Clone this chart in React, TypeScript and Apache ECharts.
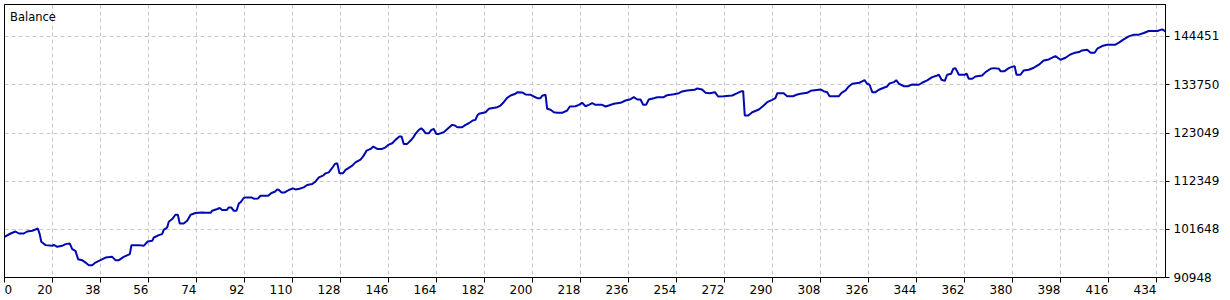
import React, { useEffect, useRef } from "react";
import * as echarts from "echarts";

// Deal number (x) and account balance (y)
const deals = [
  2, 4.3, 6.1, 7.4, 9.2, 10.5, 12.4, 13.6, 14.5, 15.2, 15.8, 17.4, 19.9, 20.5, 21.8, 23.6, 24.9, 26.5, 27.4, 28.6,
  29.6, 31.1, 32.4, 33.6, 34.9, 36.1, 38, 39.9, 42.4, 43.6, 44.9, 46.7, 49, 49.6, 52.4, 54.2, 55.7, 57.4, 58, 59.9,
  61.1, 61.7, 63, 63.6, 64.9, 66.1, 67, 67.7, 69.2, 70.5, 71.8, 73.6, 76.1, 77.4, 79.3, 79.9, 81.8, 82.7, 83.6, 85.3,
  86.1, 87, 88, 89, 89.9, 90.5, 91.7, 92.4, 94.6, 95.5, 97.1, 98, 100.9, 102.1, 103.4, 104.3, 104.9, 105.9, 107.1, 108.6,
  110.1, 111.1, 112.6, 114.2, 115.5, 117.4, 118.6, 119.9, 121.4, 122.4, 123.6, 124.9, 125.9, 126.8, 127.6, 128.9, 129.9, 131.1, 132.4, 133.6,
  135.5, 136.7, 137.8, 139.3, 140.3, 141.8, 143.6, 144.9, 146.1, 147.4, 148.6, 150.1, 150.9, 151.7, 153, 154.3, 155.5, 156.1, 157.4, 158.3,
  159.2, 159.9, 161.1, 162.1, 163, 163.9, 164.9, 166.7, 168.6, 169.9, 170.9, 171.8, 173.6, 174.9, 176.1, 177.6, 178.6, 179.3, 179.9, 182.4,
  183.6, 186.8, 188, 189.2, 190.5, 191.8, 193.6, 194.3, 196.1, 197.4, 199.3, 200.5, 201.8, 203, 203.6, 204.9, 205.5, 206.8, 208, 209.3,
  211.1, 213, 214, 216.1, 217.4, 218.6, 219.9, 221.1, 222.4, 223.6, 226.1, 227.4, 228.6, 230.5, 233, 234.9, 236.8, 238, 239.3, 240.5,
  241.5, 242.6, 243.6, 245.5, 246.8, 249.2, 250.5, 253, 254.9, 256.1, 258, 260.8, 261.8, 263.6, 264.9, 266.5, 268.4, 269.6, 271.7, 274.9,
  276.8, 278.4, 279, 279.6, 280.9, 282.4, 284.9, 286.7, 288, 289.9, 291.1, 291.8, 294.2, 295.5, 297.6, 299.3, 300.5, 303, 304.3, 308,
  309.2, 310.5, 311.4, 314.9, 315.9, 317.4, 318.6, 319.9, 322.6, 323.6, 324.5, 325.5, 326.4, 327.4, 328.6, 329.9, 331.7, 333, 333.9, 335.5,
  336.4, 337.4, 339.2, 340.9, 342.4, 344.9, 346.1, 348, 349.9, 351.8, 352.4, 353.4, 354.6, 355.5, 357, 357.8, 358.6, 359.9, 362, 362.8,
  363.6, 364.9, 366.1, 368.6, 369.9, 371.8, 373, 374.9, 375.5, 377, 378.6, 380.3, 380.8, 381.5, 383, 384.2, 386.1, 388, 389.9, 391.7,
  393.6, 394.9, 396.1, 398, 399.9, 401.5, 403, 404.9, 406.1, 408, 409.3, 410.8, 411.8, 413.6, 415.5, 418.6, 419.9, 421.7, 423.6, 425.5,
  427.4, 429.2, 431.1, 434.3, 436.1, 437.4,
];

const balance = [
  99981, 100716, 101161, 100716, 100716, 101161, 101317, 101606, 101828, 100582, 98869, 98135, 97979, 98202, 97757, 97979, 98357, 98491, 97245, 96867,
  95020, 94797, 94263, 93685, 93685, 94263, 94797, 95376, 95532, 94797, 94797, 95532, 96132, 98135, 98135, 97979, 98936, 99092, 99826, 100360,
  100582, 101539, 102051, 103319, 103920, 104877, 104877, 102941, 102941, 103542, 104877, 105255, 105388, 105322, 105322, 105767, 106145, 106367, 105922, 105922,
  106501, 106501, 105767, 105767, 107391, 107613, 108592, 108726, 108726, 108437, 108503, 109104, 109104, 109705, 109994, 110506, 110372, 109838, 109838, 110372,
  110728, 110506, 110662, 110951, 111485, 111707, 112219, 113176, 113554, 114066, 114288, 115267, 116157, 116291, 114066, 114066, 114822, 115267, 115779, 116513,
  117114, 118004, 119117, 119495, 120007, 119495, 119495, 119851, 120452, 120741, 121497, 122232, 122232, 120607, 120607, 121342, 122232, 122832, 123722, 124078,
  123567, 122966, 122966, 123722, 123945, 122832, 122832, 123188, 124167, 124835, 124679, 124301, 124301, 124835, 125191, 125792, 125947, 126904, 127282, 127638,
  128395, 128751, 129129, 129863, 130842, 131354, 131732, 132088, 132022, 131577, 131510, 131132, 130753, 130753, 131287, 131510, 128395, 128172, 127638, 127505,
  127505, 128017, 128907, 128973, 129285, 129730, 128973, 129285, 129641, 129285, 129285, 128907, 129129, 129507, 129730, 130242, 130531, 130976, 130464, 130464,
  129285, 129285, 130464, 130753, 130976, 130976, 131421, 131643, 131866, 132244, 132467, 132622, 132912, 132689, 131955, 131866, 132088, 131132, 131198, 131354,
  131866, 132311, 132311, 126904, 126904, 127638, 128239, 129129, 129863, 130397, 130753, 131866, 131866, 131198, 131198, 131577, 131732, 131955, 132400, 132689,
  132311, 132088, 131198, 131198, 131955, 132467, 133357, 133957, 134180, 134469, 134758, 133957, 133735, 132088, 132088, 132622, 133067, 133357, 134024, 134313,
  134758, 133957, 133423, 133423, 133802, 133735, 134180, 134692, 135426, 135804, 135960, 134847, 134600, 135960, 136182, 137295, 137428, 135960, 135960, 136182,
  135070, 135070, 135582, 135804, 136538, 137295, 137428, 137295, 136761, 136761, 137428, 137807, 137873, 135960, 135960, 136917, 137072, 137517, 138185, 139142,
  139364, 139742, 140098, 139297, 139742, 140410, 140766, 140988, 141367, 141522, 140855, 140855, 141745, 142323, 142635, 142635, 143080, 143814, 144482, 144860,
  144860, 145216, 145661, 145661, 146039, 145594,
];

// Axis settings (tick values as shown in the reference)
const X_MIN = 2;
const X_MAX = 437.375;
const X_STEP = 18;
const X_FIRST_LABEL = "0";
const Y_MIN = 90948;
const Y_STEP = 10700.6;
const Y_MAX = 151554;

const TITLE = "Balance";

export default function App() {
  const ref = useRef<HTMLDivElement>(null);

  useEffect(() => {
    document.body.style.margin = "0";
    if (!ref.current) return;
    const chart = echarts.init(ref.current, null, { renderer: "svg" });
    const font = "DejaVu Sans";
    const seriesData = deals.map((d, i) => [d, balance[i]]);
    const GL = 4.5, GT = 4.5, GR = 64.5, GB = 22.5;
    chart.setOption({
      animation: false,
      backgroundColor: "#ffffff",
      textStyle: { fontFamily: font },
      grid: {
        left: GL,
        top: GT,
        right: GR,
        bottom: GB,
        show: true,
        borderColor: "#000000",
        borderWidth: 1,
        backgroundColor: "#ffffff",
        containLabel: false,
      },
      graphic: [
        {
          type: "rect",
          z: 90,
          silent: true,
          shape: { x: GL, y: GT, width: 1230 - GL - GR, height: 300 - GT - GB },
          style: { fill: "none", stroke: "#000000", lineWidth: 1 },
        },
        {
          type: "text",
          left: 10,
          top: 11,
          z: 100,
          style: {
            text: TITLE,
            fontFamily: font,
            fontSize: 11.5,
            fill: "#000000",
          },
        },
      ],
      xAxis: {
        type: "value",
        min: X_MIN,
        max: X_MAX,
        interval: X_STEP,
        axisLine: { show: true, lineStyle: { color: "#000000", width: 1 } },
        axisTick: { show: true, length: 5, lineStyle: { color: "#000000" } },
        axisLabel: {
          show: true,
          margin: 6,
          color: "#000000",
          fontFamily: font,
          fontSize: 12,
          align: "right",
          alignMinLabel: "left",
          showMaxLabel: false,
          formatter: (v: number) => (v === X_MIN ? X_FIRST_LABEL : String(Math.round(v))),
        },
        splitLine: {
          show: true,
          lineStyle: { color: "#c8c8c8", type: [4, 3], width: 1 },
        },
      },
      yAxis: {
        type: "value",
        position: "right",
        min: Y_MIN,
        max: Y_MAX,
        interval: Y_STEP,
        axisLine: { show: true, lineStyle: { color: "#000000", width: 1 } },
        axisTick: { show: true, length: 4, lineStyle: { color: "#000000" } },
        axisLabel: {
          show: true,
          margin: 8,
          color: "#000000",
          fontFamily: font,
          fontSize: 12,
          verticalAlign: "middle",
          padding: [4, 0, 0, 0],
          showMaxLabel: false,
          formatter: (v: number) => String(Math.floor(v + 1e-6)),
        },
        splitLine: {
          show: true,
          lineStyle: { color: "#c8c8c8", type: [4, 3], width: 1 },
        },
      },
      series: [
        {
          type: "line",
          data: seriesData,
          showSymbol: false,
          symbol: "none",
          lineStyle: { color: "#0008b0", width: 2 },
          clip: true,
        },
      ],
    });
    return () => chart.dispose();
  }, []);

  return <div ref={ref} style={{ width: 1230, height: 300 }} />;
}
